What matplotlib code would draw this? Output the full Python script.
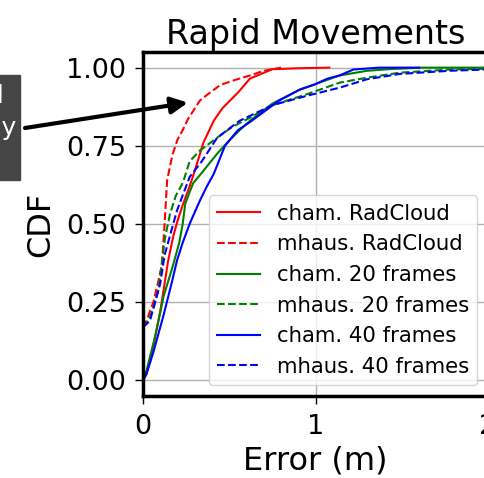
import matplotlib
matplotlib.use("Agg")
import matplotlib.pyplot as plt
from matplotlib.patches import Rectangle

# CDF curves (error in m, cumulative fraction)
cham_rad_x = [0, 0.02, 0.06, 0.10, 0.145, 0.175, 0.20, 0.23, 0.27, 0.30, 0.35, 0.41, 0.46, 0.55, 0.62, 0.75, 0.90, 1.08]
cham_rad_y = [0, 0.02, 0.11, 0.22, 0.38, 0.46, 0.51, 0.56, 0.62, 0.67, 0.76, 0.83, 0.87, 0.92, 0.965, 0.995, 0.998, 1.0]

mhaus_rad_x = [0, 0.02, 0.06, 0.09, 0.11, 0.125, 0.14, 0.17, 0.20, 0.23, 0.26, 0.33, 0.40, 0.45, 0.53, 0.62, 0.70, 0.80]
mhaus_rad_y = [0.17, 0.19, 0.25, 0.32, 0.37, 0.50, 0.64, 0.72, 0.77, 0.80, 0.835, 0.895, 0.925, 0.945, 0.96, 0.975, 0.99, 1.0]

cham_20_x = [0, 0.02, 0.07, 0.12, 0.17, 0.21, 0.23, 0.245, 0.29, 0.35, 0.43, 0.50, 0.56, 0.62, 0.75, 0.91, 1.14, 1.30, 1.45, 1.62, 2.3]
cham_20_y = [0, 0.03, 0.14, 0.27, 0.36, 0.44, 0.50, 0.565, 0.63, 0.67, 0.725, 0.767, 0.80, 0.83, 0.885, 0.93, 0.975, 0.99, 0.996, 1.0, 1.0]

mhaus_20_x = [0, 0.03, 0.06, 0.09, 0.11, 0.128, 0.157, 0.19, 0.232, 0.27, 0.33, 0.43, 0.516, 0.62, 0.75, 0.95, 1.14, 1.30, 1.49, 1.78, 2.3]
mhaus_20_y = [0.17, 0.19, 0.23, 0.29, 0.38, 0.457, 0.533, 0.59, 0.633, 0.70, 0.735, 0.776, 0.81, 0.84, 0.88, 0.915, 0.952, 0.968, 0.984, 0.994, 1.0]

cham_40_x = [0, 0.02, 0.06, 0.12, 0.17, 0.197, 0.23, 0.27, 0.33, 0.37, 0.41, 0.475, 0.55, 0.62, 0.79, 0.91, 0.99, 1.07, 1.14, 1.22, 1.37, 1.60]
cham_40_y = [0, 0.02, 0.09, 0.21, 0.32, 0.383, 0.44, 0.50, 0.575, 0.62, 0.66, 0.75, 0.80, 0.826, 0.895, 0.93, 0.945, 0.965, 0.975, 0.994, 1.0, 1.0]

mhaus_40_x = [0, 0.04, 0.10, 0.125, 0.16, 0.197, 0.27, 0.34, 0.37, 0.43, 0.50, 0.56, 0.75, 0.95, 1.14, 1.30, 1.49, 1.78, 2.3]
mhaus_40_y = [0.17, 0.19, 0.31, 0.40, 0.47, 0.543, 0.65, 0.70, 0.725, 0.776, 0.805, 0.83, 0.88, 0.91, 0.936, 0.963, 0.98, 0.99, 1.0]

yticks = [0, 0.25, 0.5, 0.75, 1.0]
ytick_labels = ["0.00", "0.25", "0.50", "0.75", "1.00"]
xticks = [0, 1, 2]


fig = plt.figure(figsize=(4.85, 4.78), dpi=100)
# axes run slightly past the right edge, like the cropped original
ax = fig.add_axes([143/485, 82/478, 345/485, 344/478])

ax.plot(cham_rad_x, cham_rad_y, color="r", lw=1.5, label="cham. RadCloud")
ax.plot(mhaus_rad_x, mhaus_rad_y, color="r", lw=1.5, ls="--", label="mhaus. RadCloud")
ax.plot(cham_20_x, cham_20_y, color="g", lw=1.5, label="cham. 20 frames")
ax.plot(mhaus_20_x, mhaus_20_y, color="g", lw=1.5, ls="--", label="mhaus. 20 frames")
ax.plot(cham_40_x, cham_40_y, color="b", lw=1.5, label="cham. 40 frames")
ax.plot(mhaus_40_x, mhaus_40_y, color="b", lw=1.5, ls="--", label="mhaus. 40 frames")

ax.set_xlim(0, 2)
ax.set_ylim(-0.05, 1.05)
ax.set_xticks(xticks)
ax.set_yticks(yticks)
ax.set_yticklabels(ytick_labels)
ax.tick_params(labelsize=19.5, length=6, width=1)
ax.tick_params(axis="x", pad=7)
ax.tick_params(axis="y", pad=6)
ax.grid(True, color="#b0b0b0", lw=1)
for s in ax.spines.values():
    s.set_linewidth(2.5)

ax.set_title("Rapid Movements", fontsize=24)
ax.set_xlabel("Error (m)", fontsize=23, labelpad=4)
ax.set_ylabel("CDF", fontsize=23, labelpad=7)
ax.legend(loc="lower right", fontsize=15.3)

# callout box cut off at the left edge of the figure
fig.add_artist(Rectangle((-0.3, 1 - 180/478), 0.3 + 20/485, 105/478,
                         transform=fig.transFigure, color="#454545", zorder=5))
fig.text(4/485, 1 - 103/478, "RadCloud errors stay small", ha="right",
         va="baseline", color="white", fontsize=18, zorder=6)
fig.text(16/485, 1 - 135/478, "even when moving rapidly", ha="right",
         va="baseline", color="white", fontsize=18, zorder=6)

ax.annotate("", xy=(0.26, 0.888), xycoords="data",
            xytext=(25/485, 1 - 128/478), textcoords="figure fraction",
            arrowprops=dict(arrowstyle="-|>", lw=3, color="black",
                            mutation_scale=25, shrinkA=0, shrinkB=0),
            annotation_clip=False)

fig.savefig("out.png", dpi=100)
